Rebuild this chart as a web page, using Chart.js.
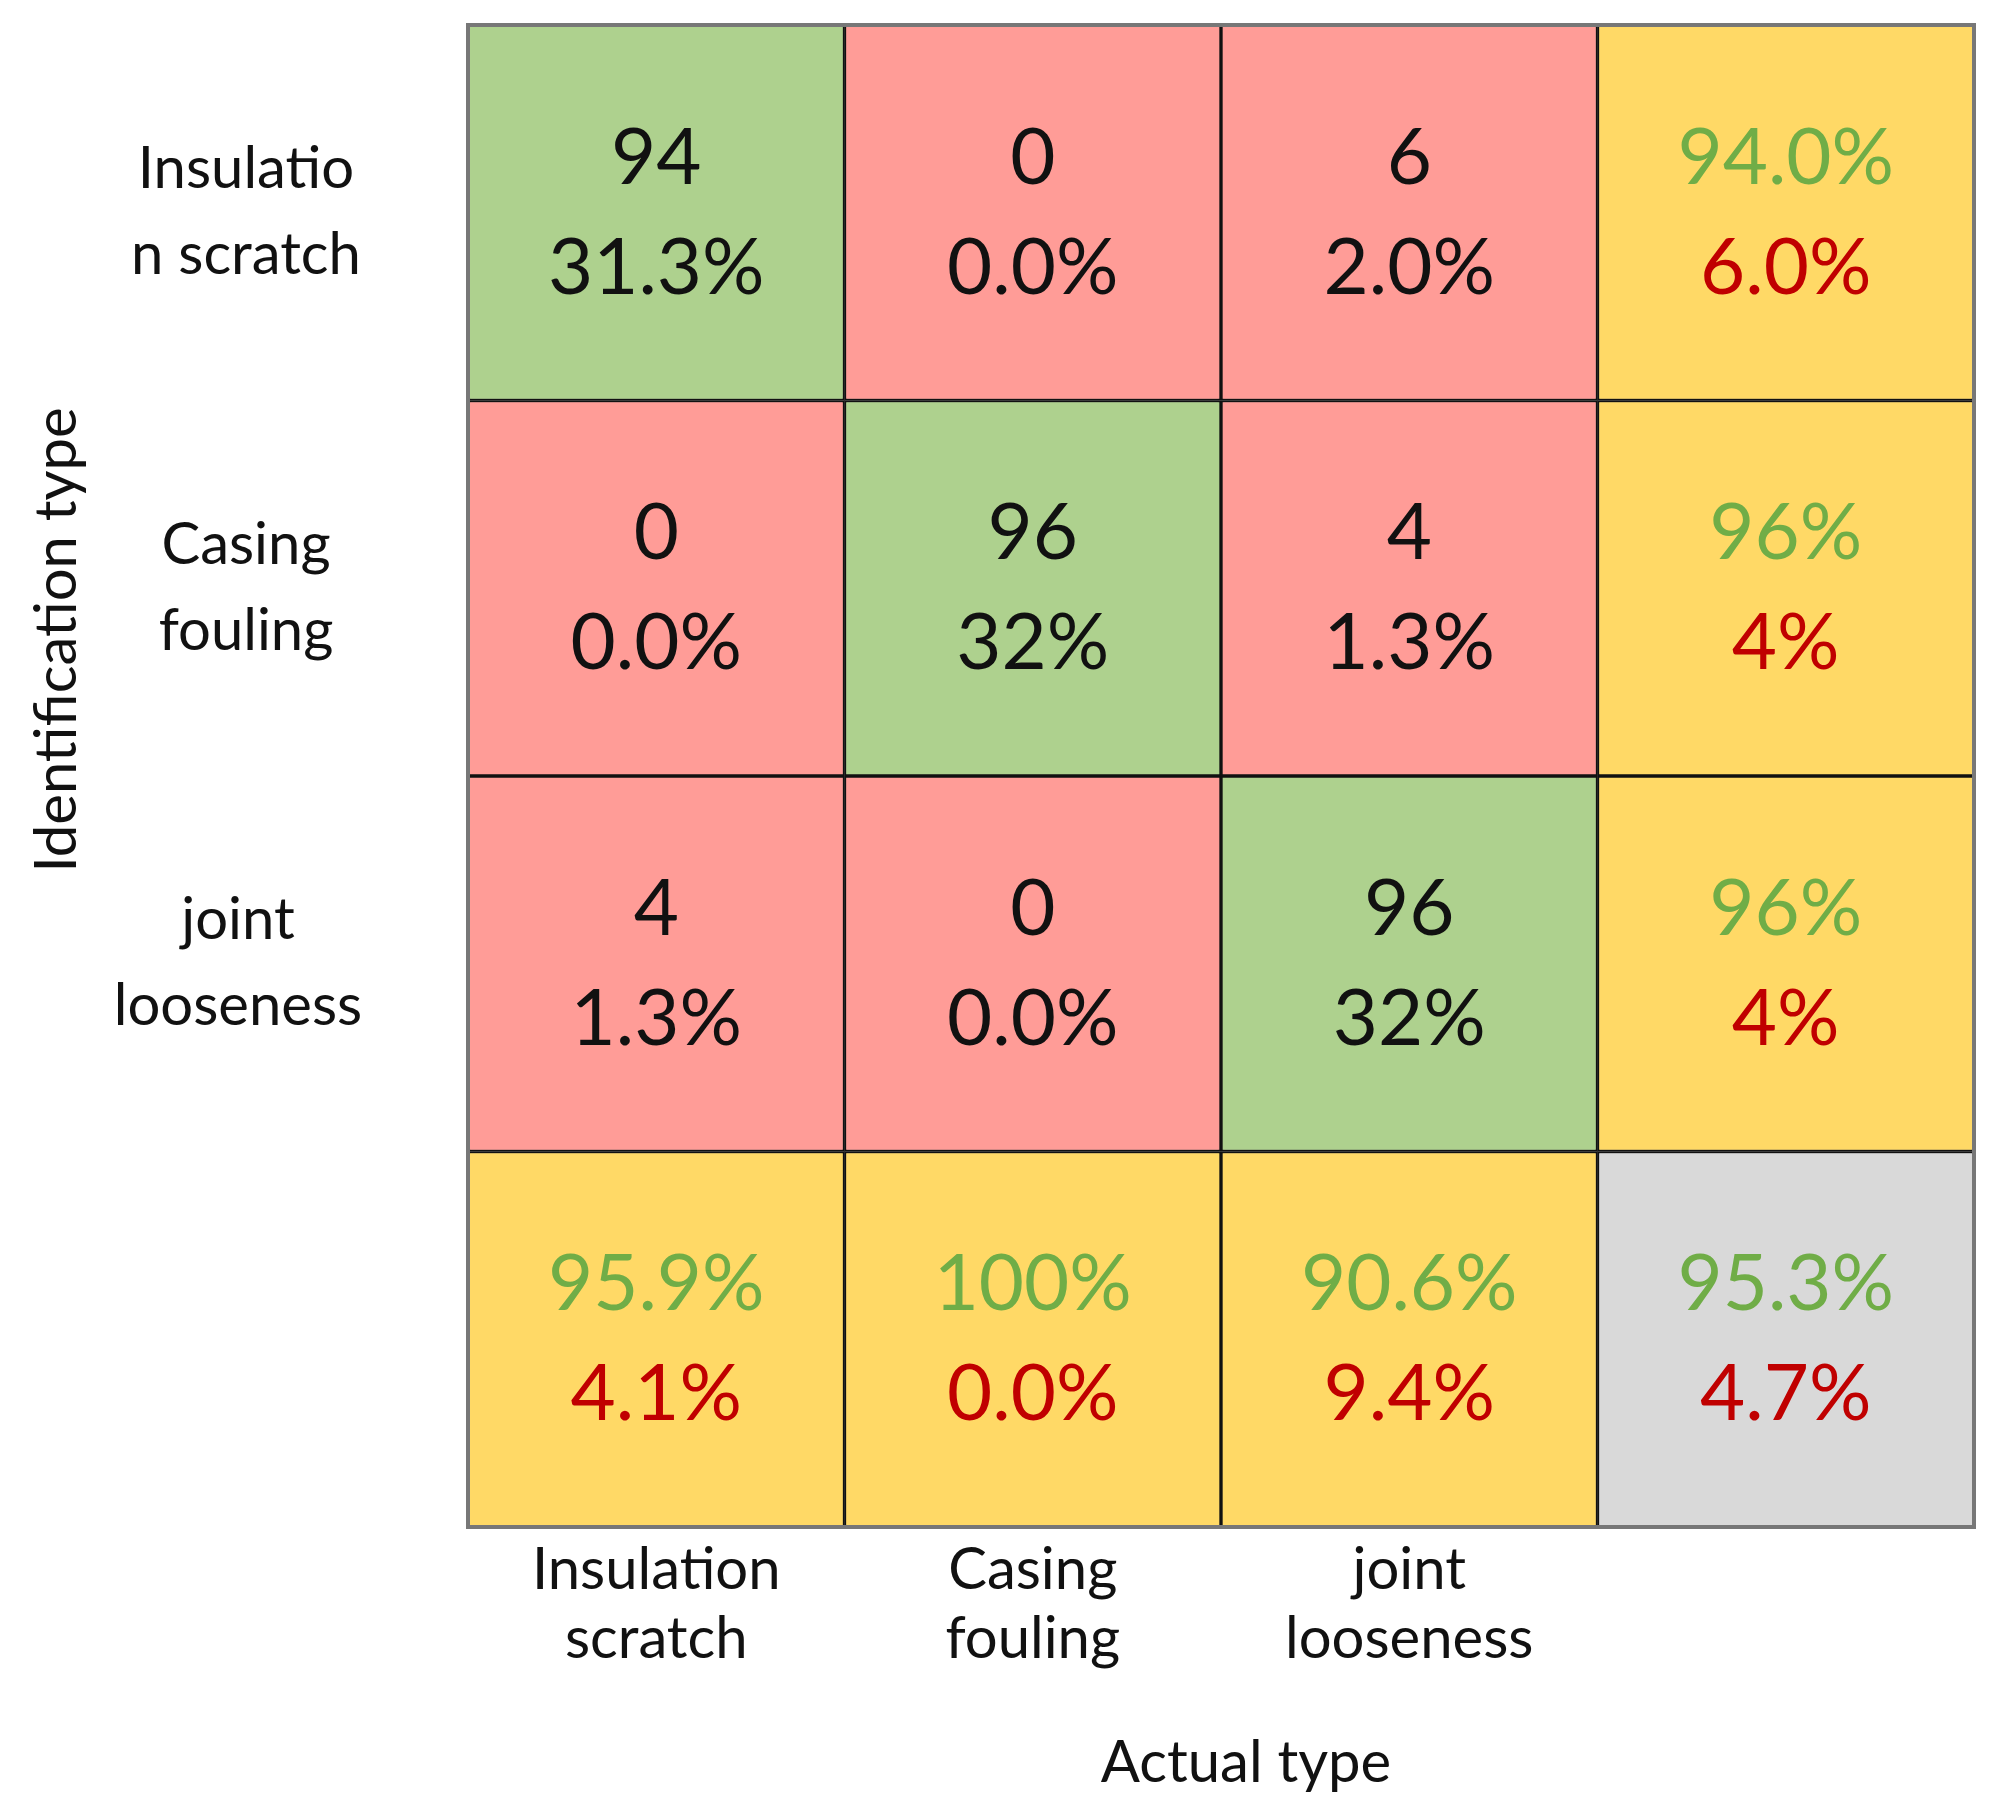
<!DOCTYPE html>
<html><head><meta charset="utf-8">
<script src="https://cdn.jsdelivr.net/npm/chart.js@4"></script>
<style>html,body{margin:0;padding:0;background:#fff}#w{width:1989px;height:1811px}</style>
</head><body><div id="w"><canvas id="c"></canvas></div>
<script>
const colLabels = [["Insulation","scratch"],["Casing","fouling"],["joint","looseness"],""];
const rowLabels = [["Insulatio","n scratch"],["Casing","fouling"],["joint","looseness"],""];
const counts = [[94,0,6],[0,96,4],[4,0,96]];
const pcts = [["31.3%","0.0%","2.0%"],["0.0%","32%","1.3%"],["1.3%","0.0%","32%"]];
const rowGood = ["94.0%","96%","96%"];
const rowBad = ["6.0%","4%","4%"];
const colGood = ["95.9%","100%","90.6%"];
const colBad = ["4.1%","0.0%","9.4%"];
const totalGood = "95.3%", totalBad = "4.7%";
const xTitle = "Actual type", yTitle = "Identification type";

const GREEN="#AED18E", PINK="#FF9C97", YEL="#FFD966", GRAY="#D9D9D9";
function cellColor(r,c){ if(r===3&&c===3) return GRAY; if(r===3||c===3) return YEL; return r===c?GREEN:PINK; }
const FONT = "Lato, 'Open Sans', sans-serif";

const datasets = [0,1,2,3].map(r=>({
  data:[1,1,1,1],
  backgroundColor:[0,1,2,3].map(c=>cellColor(r,c)),
  borderColor:"#111", borderWidth:2, borderSkipped:false,
  barPercentage:1, categoryPercentage:1
}));

const textPlugin = {
  id:'txt',
  afterDatasetsDraw(chart){
    const ctx = chart.ctx;
    ctx.save();
    ctx.textAlign='center'; ctx.textBaseline='middle';
    ctx.font = "78px "+FONT;
    for(let r=0;r<4;r++){
      const meta = chart.getDatasetMeta(r);
      for(let c=0;c<4;c++){
        const el = meta.data[c];
        const x = el.x, y = (el.y+el.base)/2;
        let t1,t2,c1,c2;
        if(r<3&&c<3){t1=String(counts[r][c]);t2=pcts[r][c];c1=c2="#111";}
        else if(r<3){t1=rowGood[r];t2=rowBad[r];c1="#70AD47";c2="#C00000";}
        else if(c<3){t1=colGood[c];t2=colBad[c];c1="#70AD47";c2="#C00000";}
        else {t1=totalGood;t2=totalBad;c1="#70AD47";c2="#C00000";}
        ctx.fillStyle=c1; ctx.fillText(t1,x,y-54);
        ctx.fillStyle=c2; ctx.fillText(t2,x,y+56);
      }
    }
    // row labels
    ctx.fillStyle="#111"; ctx.font="58px "+FONT;
    const ys = chart.scales.y;
    for(let r=0;r<3;r++){
      const yc = ys.getPixelForValue(r+0.5);
      const xc = r===2?238:246;
      ctx.fillText(rowLabels[r][0],xc,yc-43);
      ctx.fillText(rowLabels[r][1],xc,yc+43);
    }
    // y title
    ctx.save(); ctx.translate(57,640); ctx.rotate(-Math.PI/2);
    ctx.font="58px "+FONT; ctx.fillText(yTitle,0,0); ctx.restore();
    ctx.font="58px "+FONT; ctx.fillText(xTitle,1246,1763);
    // frame shadow
    const a=chart.chartArea;
    ctx.strokeStyle="#777"; ctx.lineWidth=4;
    ctx.strokeRect(a.left,a.top,a.right-a.left,a.bottom-a.top);
    ctx.restore();
  }
};

new Chart(document.getElementById('c'),{
  type:'bar',
  data:{labels:colLabels,datasets},
  options:{
    responsive:true,maintainAspectRatio:false,animation:false,
    layout:{padding:{top:25,right:15,left:0,bottom:0}},
    plugins:{legend:{display:false},tooltip:{enabled:false}},
    scales:{
      x:{stacked:true,grid:{display:false,drawTicks:false},border:{display:false},
         ticks:{color:"#111",font:{family:FONT,size:58},padding:8,maxRotation:0,autoSkip:false},
         afterFit(s){s.height=284;}},
      y:{stacked:true,min:0,max:4,reverse:true,display:true,grid:{display:false},border:{display:false},
         ticks:{display:false},afterFit(s){s.width=468;}}
    }
  },
  plugins:[textPlugin]
});
</script></body></html>
